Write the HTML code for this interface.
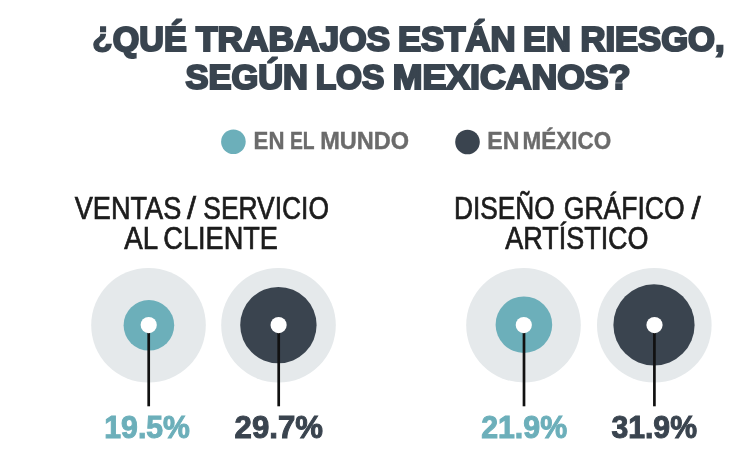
<!DOCTYPE html>
<html lang="es">
<head>
<meta charset="utf-8">
<title>¿Qué trabajos están en riesgo, según los mexicanos?</title>
<style>
html,body{margin:0;padding:0;background:#fff;}
body{width:750px;height:465px;overflow:hidden;position:relative;}
svg{display:block;position:absolute;left:0;top:0;}
text{font-family:"Liberation Sans",sans-serif;stroke-linejoin:miter;stroke-miterlimit:2.5;}
.title{font-weight:bold;font-size:34.6px;fill:#39444f;stroke:#39444f;stroke-width:2.2px;}
.leg{font-weight:bold;font-size:24px;fill:#6b6b6b;stroke:#6b6b6b;stroke-width:0.4px;}
.cat{font-weight:normal;font-size:31px;fill:#1c1c1c;stroke:#1c1c1c;stroke-width:0.7px;}
.pct{font-weight:bold;font-size:31px;stroke-width:1px;}
.teal{fill:#6cafba;}
text.teal{stroke:#6cafba;}
.dark{fill:#3a444f;}
text.dark{stroke:#3a444f;}
.halo{fill:#e5e9eb;}
.stem{stroke:#111;stroke-width:2.7px;}
</style>
</head>
<body>
<svg width="750" height="465" viewBox="0 0 750 465">
  <rect width="750" height="465" fill="#ffffff"/>
  <!-- legend dots -->
  <circle class="teal" cx="233.4" cy="141.7" r="12.3"/>
  <circle class="dark" cx="467.5" cy="142" r="12.3"/>
  <!-- bubbles -->
  <circle class="halo" cx="148.5" cy="325.2" r="57.3"/>
  <circle class="teal" cx="148.9" cy="325.3" r="25.3"/>
  <line class="stem" x1="148.7" y1="325" x2="148.7" y2="406.3"/>
  <circle fill="#fff" cx="148.7" cy="325.1" r="8.1"/>

  <circle class="halo" cx="278.5" cy="325.2" r="57.3"/>
  <circle class="dark" cx="278.4" cy="325.1" r="38.2"/>
  <line class="stem" x1="278.7" y1="325" x2="278.7" y2="406.3"/>
  <circle fill="#fff" cx="278.6" cy="325.1" r="8.1"/>

  <circle class="halo" cx="523.5" cy="325.2" r="57.3"/>
  <circle class="teal" cx="523.9" cy="324.7" r="28.3"/>
  <line class="stem" x1="524" y1="325" x2="524" y2="406.3"/>
  <circle fill="#fff" cx="523.8" cy="325.1" r="8.1"/>

  <circle class="halo" cx="654.3" cy="325.2" r="57.3"/>
  <circle class="dark" cx="654" cy="324.9" r="40.6"/>
  <line class="stem" x1="654.4" y1="325" x2="654.4" y2="406.3"/>
  <circle fill="#fff" cx="654.5" cy="325.1" r="8.1"/>

  <text class="title" x="91.95" y="50.70" textLength="94.73" lengthAdjust="spacingAndGlyphs"><tspan dy="-5.2" style="stroke-width:1.3px">¿</tspan><tspan dy="5.2">QUÉ</tspan></text>
  <text class="title" x="196.07" y="50.70" textLength="194.07" lengthAdjust="spacingAndGlyphs">TRABAJOS</text>
  <text class="title" x="397.99" y="50.70" textLength="117.48" lengthAdjust="spacingAndGlyphs">ESTÁN</text>
  <text class="title" x="523.03" y="50.70" textLength="47.87" lengthAdjust="spacingAndGlyphs">EN</text>
  <text class="title" x="580.46" y="50.70" textLength="144.18" lengthAdjust="spacingAndGlyphs">RIESGO,</text>
  <text class="title" x="185.56" y="88.70" textLength="122.43" lengthAdjust="spacingAndGlyphs">SEGÚN</text>
  <text class="title" x="315.64" y="88.70" textLength="68.70" lengthAdjust="spacingAndGlyphs">LOS</text>
  <text class="title" x="392.74" y="88.70" textLength="237.69" lengthAdjust="spacingAndGlyphs">MEXICANOS?</text>
  <text class="leg" x="253.58" y="148.70" textLength="30.85" lengthAdjust="spacingAndGlyphs">EN</text>
  <text class="leg" x="290.00" y="148.70" textLength="24.65" lengthAdjust="spacingAndGlyphs">EL</text>
  <text class="leg" x="320.16" y="148.70" textLength="88.89" lengthAdjust="spacingAndGlyphs">MUNDO</text>
  <text class="leg" x="487.31" y="148.70" textLength="32.09" lengthAdjust="spacingAndGlyphs">EN</text>
  <text class="leg" x="522.52" y="148.70" textLength="88.63" lengthAdjust="spacingAndGlyphs">MÉXICO</text>
  <text class="cat" x="74.77" y="218.80" textLength="106.50" lengthAdjust="spacingAndGlyphs">VENTAS</text>
  <text class="cat" x="186.92" y="218.80" textLength="9.04" lengthAdjust="spacingAndGlyphs">/</text>
  <text class="cat" x="203.33" y="218.80" textLength="125.61" lengthAdjust="spacingAndGlyphs">SERVICIO</text>
  <text class="cat" x="124.34" y="248.50" textLength="33.87" lengthAdjust="spacingAndGlyphs">AL</text>
  <text class="cat" x="163.33" y="248.50" textLength="114.63" lengthAdjust="spacingAndGlyphs">CLIENTE</text>
  <text class="cat" x="453.91" y="218.80" textLength="100.75" lengthAdjust="spacingAndGlyphs">DISEÑO</text>
  <text class="cat" x="563.77" y="218.80" textLength="120.84" lengthAdjust="spacingAndGlyphs">GRÁFICO</text>
  <text class="cat" x="691.46" y="218.80" textLength="9.24" lengthAdjust="spacingAndGlyphs">/</text>
  <text class="cat" x="505.35" y="248.50" textLength="143.17" lengthAdjust="spacingAndGlyphs">ARTÍSTICO</text>
  <text class="pct teal" x="104.32" y="437.50" textLength="85.57" lengthAdjust="spacingAndGlyphs">19.5%</text>
  <text class="pct dark" x="234.63" y="437.50" textLength="88.26" lengthAdjust="spacingAndGlyphs">29.7%</text>
  <text class="pct teal" x="481.15" y="437.50" textLength="85.96" lengthAdjust="spacingAndGlyphs">21.9%</text>
  <text class="pct dark" x="611.41" y="437.50" textLength="85.61" lengthAdjust="spacingAndGlyphs">31.9%</text>
</svg>
</body>
</html>
